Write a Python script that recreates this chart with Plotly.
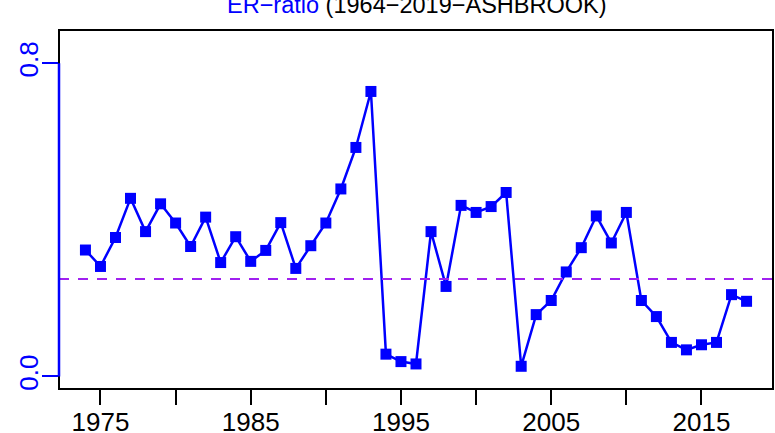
import plotly.graph_objects as go

years = list(range(1974, 2019))
er_ratio = [0.323, 0.281, 0.355, 0.455, 0.370, 0.441, 0.392, 0.332, 0.407, 0.291,
            0.357, 0.294, 0.322, 0.393, 0.276, 0.334, 0.392, 0.479, 0.585, 0.728,
            0.057, 0.038, 0.032, 0.370, 0.230, 0.437, 0.419, 0.434, 0.470, 0.026,
            0.158, 0.194, 0.267, 0.329, 0.410, 0.341, 0.419, 0.194, 0.153, 0.087,
            0.068, 0.081, 0.087, 0.209, 0.192]
ref_level = 0.249
x_tickvals = [1975, 1980, 1985, 1990, 1995, 2000, 2005, 2010, 2015]
x_ticktext = ["1975", "", "1985", "", "1995", "", "2005", "", "2015"]
y_tickvals = [0.0, 0.8]
y_ticktext = ["0.0", "0.8"]

FONT = "Liberation Sans, Arial, Helvetica, sans-serif"

fig = go.Figure()
fig.add_trace(go.Scatter(
    x=years, y=er_ratio, mode="lines+markers",
    line=dict(color="#0000FF", width=2.5),
    marker=dict(symbol="square", size=11, color="#0000FF"),
    showlegend=False, cliponaxis=False,
))

fig.update_layout(
    width=775, height=433,
    margin=dict(l=59, r=2, t=30, b=44),
    paper_bgcolor="white", plot_bgcolor="white",
    font=dict(family=FONT, size=24, color="black"),
    xaxis=dict(range=[1972.24, 2019.76], tickvals=x_tickvals, ticktext=x_ticktext,
               ticks="outside", ticklen=15, tickwidth=2, tickcolor="black",
               showgrid=False, zeroline=False, showline=False, automargin=False,
               ticklabelstandoff=-5,
               tickfont=dict(family=FONT, size=26, color="black")),
    yaxis=dict(range=[-0.032, 0.885], tickvals=y_tickvals, ticktext=y_ticktext,
               ticks="outside", ticklen=16, tickwidth=2, tickcolor="#0000FF",
               tickangle=-90, automargin=False, ticklabelstandoff=-6,
               showgrid=False, zeroline=False, showline=False,
               tickfont=dict(family=FONT, size=26, color="#0000FF")),
    shapes=[
        dict(type="line", xref="paper", yref="y", x0=0, x1=1, y0=ref_level, y1=ref_level,
             line=dict(color="#A020F0", width=2, dash="10px,9px")),
        dict(type="rect", xref="paper", yref="paper", x0=0, x1=1, y0=0, y1=1,
             line=dict(color="black", width=2)),
        dict(type="line", xref="paper", yref="y", x0=0, x1=0, y0=0, y1=0.8,
             line=dict(color="#0000FF", width=2.5)),
    ],
    annotations=[
        dict(text="<span style='color:#0000FF'>ER\u2212ratio</span> (1964\u22122019\u2212ASHBROOK)",
             xref="paper", yref="paper", x=0.5, y=1, xanchor="center", yanchor="middle",
             yshift=25, showarrow=False,
             font=dict(family=FONT, size=23.5, color="black")),
    ],
)

fig.write_html("out.html", config={"displayModeBar": False},
               post_script="document.body.style.margin='0';document.body.style.overflow='hidden';")
